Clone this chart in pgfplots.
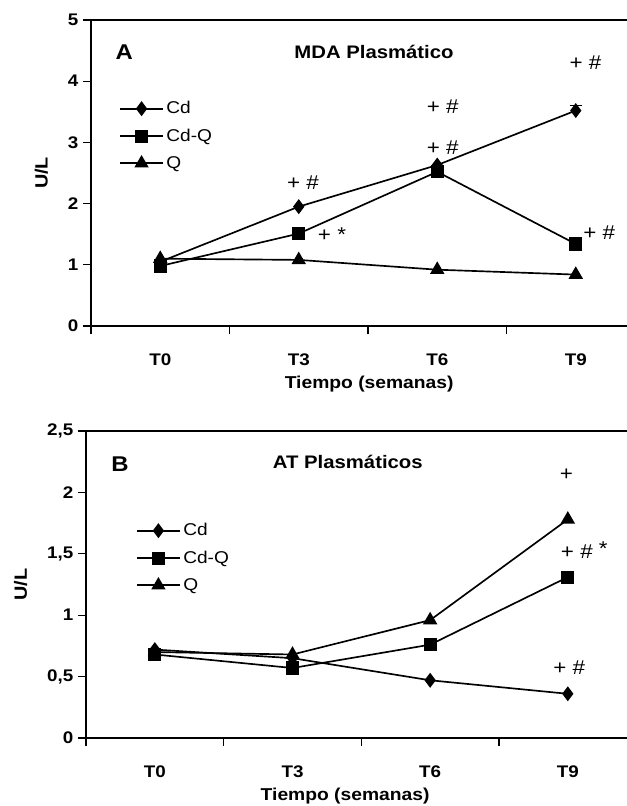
\documentclass[border=0pt]{standalone}
\usepackage{fontspec}
\setmainfont{Liberation Sans}[FakeStretch=1.12]
\usepackage{pgfplots}
\pgfplotsset{compat=1.18}

\pgfplotsset{
  panel/.style={
    scale only axis,
    axis x line*=box, axis y line*=left,
    axis line style={-, line width=1.6pt},
    xtick pos=bottom, ytick pos=left,
    tick align=outside, major tick length=6pt,
    tick style={line width=0.8pt, black},
    xmin=-0.5,
    xtick={-0.5,0.5,1.5,2.5}, xticklabels={},
    extra x ticks={0,1,2,3}, extra x tick labels={T0,T3,T6,T9},
    extra x tick style={major tick length=0pt},
    xticklabel style={yshift=-17pt},
    ticklabel style={font=\fontsize{12.6}{15}\selectfont\bfseries},
    /pgf/number format/assume math mode=true,
    /pgf/number format/use comma,
    xlabel={Tiempo (semanas)}, ylabel={U/L},
    xlabel style={font=\fontsize{12.9}{15}\selectfont\bfseries, yshift=4.5pt},
    ylabel style={font=\fontsize{13.3}{15}\selectfont\bfseries},
    ylabel shift=8pt,
    legend cell align=left,
    legend style={draw=none, fill=none, font=\fontsize{12.8}{15}\selectfont,
      row sep=5.8pt, anchor=north west},
    legend image code/.code={\draw[mark repeat=2,mark phase=2,##1]
      plot coordinates {(0pt,0pt) (16pt,0pt) (32pt,0pt)};},
    every axis plot/.append style={black, line width=1.25pt},
  },
  cd/.style={mark=diamond*, mark size=4.6pt, mark options={solid, fill=black}},
  cdq/.style={mark=square*, mark size=4.3pt, mark options={solid, fill=black}},
  qq/.style={mark=triangle*, mark size=5pt, mark options={solid, fill=black}},
}
\newcommand{\ann}{\fontsize{15}{17}\selectfont}

\begin{document}
\begin{tikzpicture}
%% Panel A: MDA plasmatico
\begin{axis}[panel,
  at={(0pt,0pt)},
  width=402pt, height=229.5pt,
  xmax=3.37, ymin=0, ymax=5, ytick={0,1,2,3,4,5},
  xlabel style={at={(ticklabel cs:0.519)}},
  legend style={at={(axis description cs:0.045,0.752)}},
]
\addplot[cd, error bars/.cd, y dir=plus, y explicit]
  coordinates {(0,1.05) (1,1.95) (2,2.63) (3,3.52) +- (0,0.09)};
\addlegendentry{Cd}
\addplot[cdq] coordinates {(0,0.98) (1,1.51) (2,2.52) (3,1.34)};
\addlegendentry{Cd-Q}
\addplot[qq] coordinates {(0,1.10) (1,1.08) (2,0.92) (3,0.84)};
\addlegendentry{Q}
\node[font=\fontsize{16}{18}\selectfont\bfseries] at (axis description cs:0.062,0.895) {A};
\node[font=\fontsize{13.6}{16}\selectfont\bfseries] at (axis description cs:0.528,0.895) {MDA Plasmático};
\node[font=\ann] at (axis cs:1.03,2.35) {+ \#};
\node[font=\ann] at (axis cs:1.24,1.50) {+ *};
\node[font=\ann] at (axis cs:2.04,3.58) {+ \#};
\node[font=\ann] at (axis cs:2.04,2.92) {+ \#};
\node[font=\ann] at (axis cs:3.07,4.30) {+ \#};
\node[font=\ann] at (axis cs:3.17,1.52) {+ \#};
\end{axis}

%% Panel B: AT plasmaticos
\begin{axis}[panel,
  at={(-3.75pt,-309pt)},
  width=405.75pt, height=230.25pt,
  xmax=3.43, ymin=0, ymax=2.5, ytick={0,0.5,1,1.5,2,2.5},
  xlabel style={at={(ticklabel cs:0.479)}},
  legend style={at={(axis description cs:0.085,0.717)}},
]
\addplot[cd] coordinates {(0,0.72) (1,0.65) (2,0.47) (3,0.36)};
\addlegendentry{Cd}
\addplot[cdq] coordinates {(0,0.68) (1,0.57) (2,0.76) (3,1.31)};
\addlegendentry{Cd-Q}
\addplot[qq] coordinates {(0,0.70) (1,0.68) (2,0.96) (3,1.78)};
\addlegendentry{Q}
\node[font=\fontsize{16}{18}\selectfont\bfseries] at (axis description cs:0.063,0.892) {B};
\node[font=\fontsize{13.6}{16}\selectfont\bfseries] at (axis description cs:0.484,0.899) {AT Plasmáticos};
\node[font=\ann] at (axis cs:2.99,2.14) {+};
\node[font=\ann] at (axis cs:3.12,1.53) {+ \# \raisebox{0.35ex}{*}};
\node[font=\ann] at (axis cs:3.01,0.57) {+ \#};
\end{axis}

\pgfresetboundingbox
\path[use as bounding box] (-68.25pt,-360pt) rectangle (402pt,244.5pt);
\end{tikzpicture}
\end{document}
